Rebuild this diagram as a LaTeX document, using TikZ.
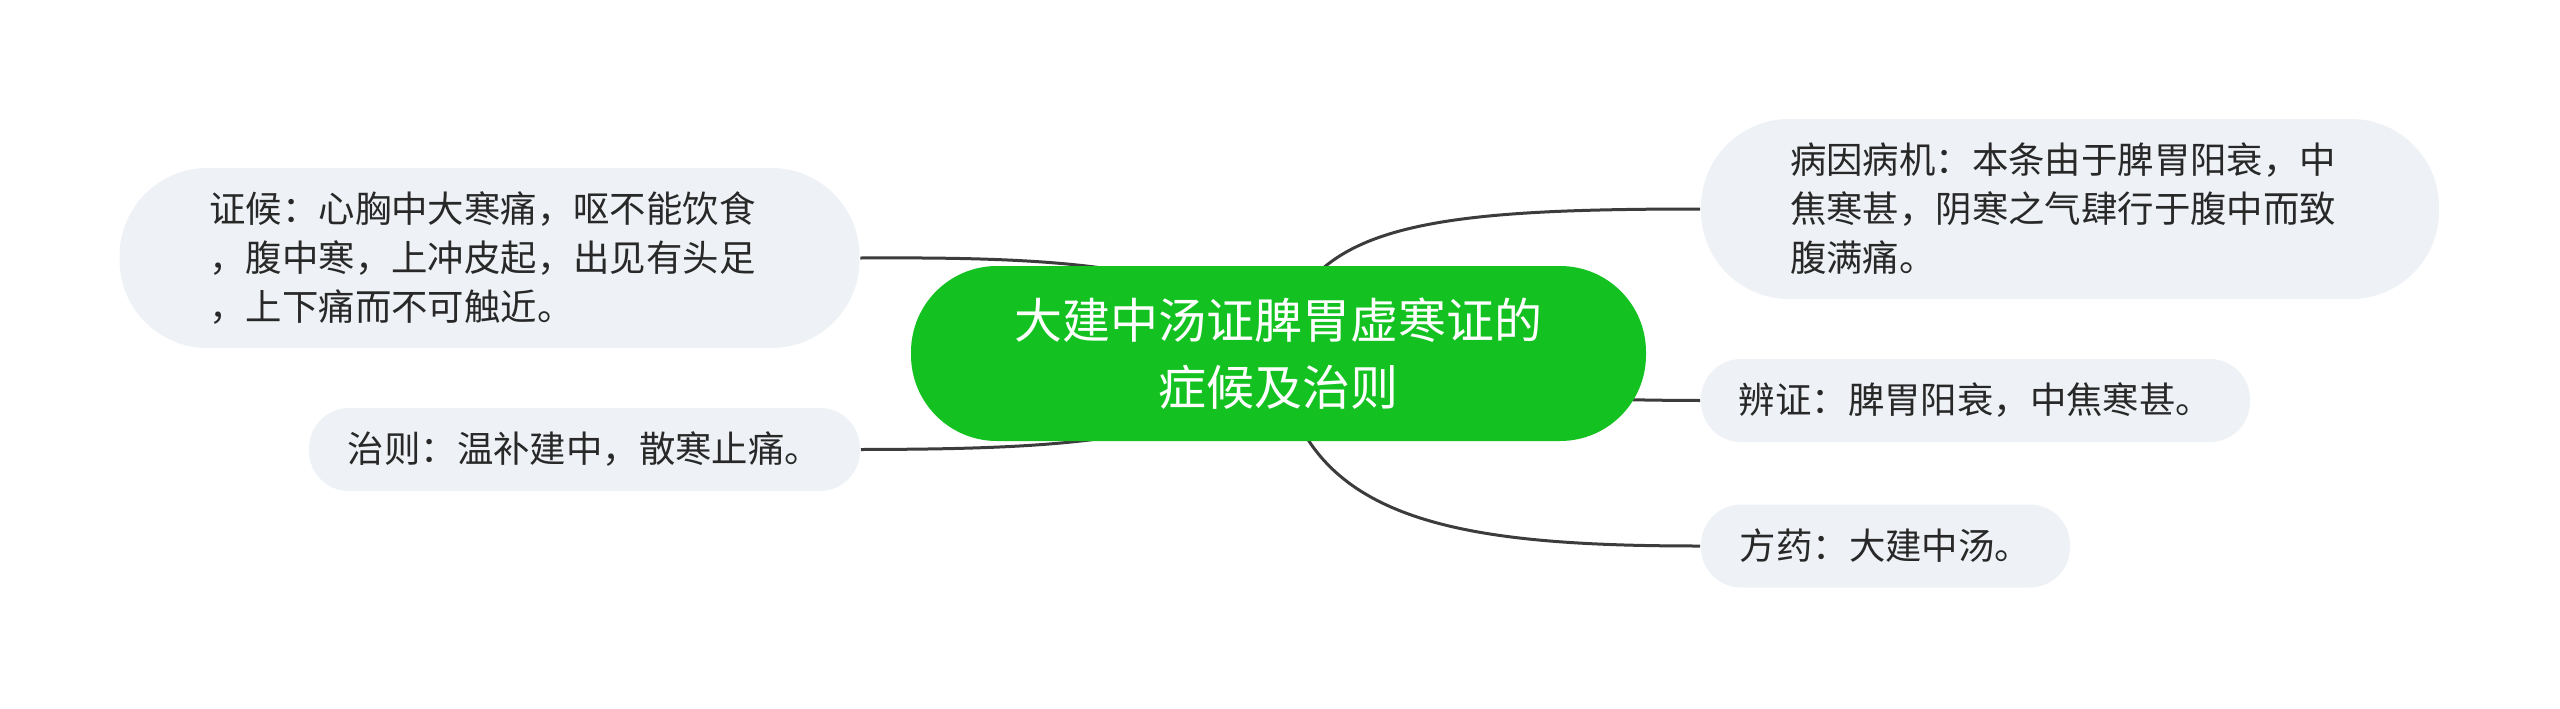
\documentclass[tikz,border=0pt]{standalone}
\usepackage{fontspec}
\setmainfont{Noto Sans CJK SC}
\usetikzlibrary{backgrounds}
\definecolor{rootgreen}{RGB}{19,194,33}
\definecolor{leaffill}{RGB}{238,241,245}
\definecolor{linegray}{RGB}{60,60,60}
\definecolor{txtgray}{RGB}{40,40,40}
\begin{document}
\begin{tikzpicture}[x=0.25pt,y=-0.25pt,
  root/.style={fill=rootgreen, text=white, rounded corners=21.5pt,
    minimum width=183.75pt, minimum height=43.75pt, align=center,
    font=\fontsize{12}{16.75}\selectfont, inner sep=0pt},
  leafbig/.style={fill=leaffill, text=txtgray, rounded corners=22pt,
    minimum width=185pt, minimum height=45pt, text width=140pt, align=left,
    font=\fontsize{9.1}{12.25}\selectfont, inner sep=0pt},
  leafsmall/.style={fill=leaffill, text=txtgray, rounded corners=10pt,
    minimum height=20.75pt, align=center,
    font=\fontsize{9.1}{12.25}\selectfont, inner sep=0pt},
  conn/.style={draw=linegray, line width=0.75pt}]
\useasboundingbox (0,0) rectangle (2560,708);
\node[root] (root) at (1278.5,353.5) {大建中汤证脾胃虚寒证的\\症候及治则};
\node[leafbig] (zh) at (489.5,258) {证候：心胸中大寒痛，呕不能饮食\\，腹中寒，上冲皮起，出见有头足\\，上下痛而不可触近。};
\node[leafsmall, minimum width=137.75pt] (zz) at (584.5,449.5) {治则：温补建中，散寒止痛。};
\node[leafbig, minimum width=184.5pt] (by) at (2070,209) {病因病机：本条由于脾胃阳衰，中\\焦寒甚，阴寒之气肆行于腹中而致\\腹满痛。};
\node[leafsmall, minimum width=137.25pt] (bz) at (1975.5,400.5) {辨证：脾胃阳衰，中焦寒甚。};
\node[leafsmall, minimum width=92.25pt] (fy) at (1885.5,546) {方药：大建中汤。};
\begin{scope}[on background layer]
\draw[conn] (zh.east) .. controls (1050,257) and (1230,262) .. (root.center);
\draw[conn] (zz.east) .. controls (1050,449) and (1230,444) .. (root.center);
\draw[conn] (root.center) .. controls (1300,225) and (1420,209) .. (by.west);
\draw[conn] (root.center) .. controls (1500,400) and (1600,400) .. (bz.west);
\draw[conn] (root.center) .. controls (1300,520) and (1450,546) .. (fy.west);
\end{scope}
\end{tikzpicture}
\end{document}
